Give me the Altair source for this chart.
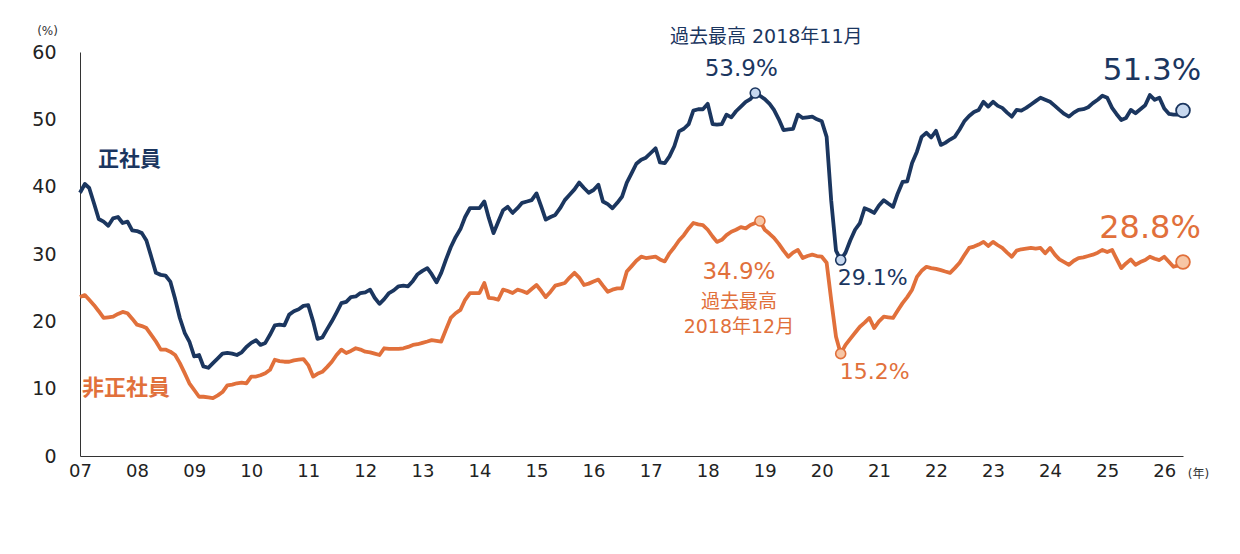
import altair as alt
import pandas as pd

NAVY = "#1b365f"
ORANGE = "#e1703b"
NAVY_LIGHT = "#c7d8ef"
ORANGE_LIGHT = "#f7c6a5"
FONT = "DejaVu Sans, Noto Sans CJK JP"

months = pd.date_range("2007-01-01", "2026-05-01", freq="MS")

# 正社員 (monthly, 2007-01 .. 2026-05)
seishain = [
    39.1, 40.4, 39.8, 37.5, 35.2, 34.8, 34.2, 35.3, 35.5, 34.6, 34.8, 33.5,  # 07
    33.4, 33.1, 32.0, 29.6, 27.2, 26.9, 26.8, 25.9, 23.3, 20.5, 18.3, 17.0,  # 08
    14.8, 15.0, 13.3, 13.1, 13.8, 14.5, 15.2, 15.3, 15.2, 15.0, 15.4, 16.2,  # 09
    16.8, 17.2, 16.5, 16.8, 18.0, 19.4, 19.5, 19.4, 21.0, 21.5, 21.8, 22.3,  # 10
    22.4, 20.0, 17.4, 17.6, 18.8, 20.0, 21.3, 22.7, 22.9, 23.6, 23.7, 24.2,  # 11
    24.3, 24.7, 23.5, 22.6, 23.3, 24.2, 24.6, 25.2, 25.3, 25.2, 26.0, 27.0,  # 12
    27.5, 27.9, 27.0, 25.8, 27.2, 29.2, 31.0, 32.5, 33.7, 35.5, 36.8, 36.8,  # 13
    36.8, 37.8, 35.4, 33.1, 34.8, 36.5, 37.0, 36.1, 36.8, 37.6, 37.8, 38.0,  # 14
    39.0, 37.0, 35.1, 35.5, 35.8, 36.8, 38.0, 38.8, 39.6, 40.6, 39.8, 39.1,  # 15
    39.5, 40.3, 37.8, 37.4, 36.8, 37.6, 38.5, 40.6, 42.0, 43.4, 44.0, 44.3,  # 16
    45.0, 45.7, 43.6, 43.5, 44.5, 46.0, 48.2, 48.6, 49.3, 51.3, 51.5, 51.5,  # 17
    52.3, 49.3, 49.2, 49.3, 50.7, 50.3, 51.2, 51.9, 52.6, 53.0, 53.9, 53.5,  # 18
    53.0, 52.3, 51.4, 50.0, 48.4, 48.5, 48.6, 50.7, 50.2, 50.3, 50.4, 50.0,  # 19
    49.7, 47.4, 38.0, 30.5, 29.1, 30.2, 32.0, 33.6, 34.6, 36.8, 36.5, 36.1,  # 20
    37.2, 38.0, 37.5, 37.0, 39.0, 40.7, 40.8, 43.5, 45.2, 47.4, 48.0, 47.3,  # 21
    48.3, 46.2, 46.5, 47.0, 47.4, 48.5, 49.7, 50.5, 51.1, 51.4, 52.6, 51.9,  # 22
    52.6, 52.0, 51.7, 51.0, 50.4, 51.4, 51.3, 51.7, 52.2, 52.7, 53.2, 52.9,  # 23
    52.6, 52.0, 51.4, 50.8, 50.4, 51.0, 51.4, 51.5, 51.8, 52.4, 52.9, 53.5,  # 24
    53.2, 51.7, 50.8, 49.9, 50.2, 51.4, 50.9, 51.5, 52.1, 53.6, 52.9, 53.2,  # 25
    51.6, 50.8, 50.7, 50.7, 51.3,                                            # 26
]

# 非正社員
hiseishain = [
    23.6, 23.9, 23.2, 22.4, 21.5, 20.5, 20.6, 20.7, 21.1, 21.4, 21.2, 20.4,  # 07
    19.5, 19.3, 19.0, 18.0, 17.0, 15.8, 15.8, 15.5, 15.0, 13.8, 12.3, 10.8,  # 08
    9.8, 8.8, 8.8, 8.7, 8.6, 9.0, 9.5, 10.5, 10.6, 10.8, 10.9, 10.8,         # 09
    11.8, 11.8, 12.0, 12.3, 12.8, 14.3, 14.1, 14.0, 14.0, 14.2, 14.3, 14.4,  # 10
    13.5, 11.8, 12.2, 12.5, 13.2, 14.0, 15.0, 15.8, 15.3, 15.6, 16.0, 15.8,  # 11
    15.5, 15.4, 15.2, 15.0, 16.0, 15.9, 15.9, 15.9, 16.0, 16.2, 16.5, 16.6,  # 12
    16.8, 17.0, 17.2, 17.1, 17.0, 18.8, 20.5, 21.2, 21.7, 23.2, 24.2, 24.2,  # 13
    24.2, 25.7, 23.5, 23.4, 23.2, 24.7, 24.5, 24.2, 24.7, 24.5, 24.2, 24.8,  # 14
    25.4, 24.5, 23.6, 24.4, 25.3, 25.5, 25.7, 26.5, 27.2, 26.5, 25.4, 25.6,  # 15
    25.9, 26.2, 25.3, 24.4, 24.7, 24.9, 24.9, 27.4, 28.2, 29.0, 29.6, 29.4,  # 16
    29.5, 29.6, 29.2, 28.9, 30.1, 31.0, 32.0, 32.8, 33.8, 34.6, 34.4, 34.3,  # 17
    33.6, 32.6, 31.8, 32.1, 32.8, 33.3, 33.6, 34.0, 33.8, 34.3, 34.6, 34.9,  # 18
    33.6, 33.0, 32.4, 31.5, 30.5, 29.6, 30.2, 30.6, 29.4, 29.7, 29.9, 29.7,  # 19
    29.6, 28.7, 23.2, 17.7, 15.2, 16.5, 17.4, 18.3, 19.2, 19.8, 20.5, 19.0,  # 20
    20.0, 20.7, 20.6, 20.5, 21.6, 22.7, 23.6, 24.7, 26.6, 27.5, 28.1, 27.9,  # 21
    27.8, 27.6, 27.4, 27.2, 27.9, 28.7, 29.8, 30.9, 31.1, 31.4, 31.8, 31.2,  # 22
    31.8, 31.3, 30.9, 30.2, 29.6, 30.5, 30.7, 30.8, 30.9, 30.8, 30.9, 30.1,  # 23
    30.9, 29.9, 29.2, 28.8, 28.4, 29.0, 29.4, 29.5, 29.7, 29.9, 30.2, 30.6,  # 24
    30.3, 30.6, 29.3, 27.9, 28.6, 29.2, 28.4, 28.8, 29.1, 29.6, 29.3, 29.1,  # 25
    29.6, 28.8, 28.1, 28.3, 28.8,                                            # 26
]

series_names = ["正社員", "非正社員"]
year_ticks = list(range(2007, 2027))

n = len(months)
df = pd.DataFrame({
    "month": list(months) * 2,
    "rate": seishain + hiseishain,
    "type": [series_names[0]] * n + [series_names[1]] * n,
})

# highlighted points
hl_month = ["2018-11-01", "2020-05-01", "2018-12-01", "2020-05-01"]
hl_rate = [53.9, 29.1, 34.9, 15.2]
hl_type = ["正社員", "正社員", "非正社員", "非正社員"]
last_month = ["2026-05-01", "2026-05-01"]
last_rate = [51.3, 28.8]
last_type = ["正社員", "非正社員"]

hl_df = pd.DataFrame({"month": pd.to_datetime(hl_month), "rate": hl_rate, "type": hl_type})
last_df = pd.DataFrame({"month": pd.to_datetime(last_month), "rate": last_rate, "type": last_type})

x_enc = alt.X(
    "month:T",
    scale=alt.Scale(domain=[alt.DateTime(year=2007, month=1, date=1),
                            alt.DateTime(year=2026, month=5, date=1)]),
    axis=alt.Axis(
        values=[alt.DateTime(year=y, month=1, date=1) for y in year_ticks],
        format="%y", title="(年)", titleAngle=0, titleX=1118, titleY=17,
        titleFontSize=12, titleFontWeight="normal", titleColor="#333",
        titleBaseline="middle", titleAlign="center",
        labelFontSize=18, labelPadding=6, labelColor="#222",
        ticks=False, grid=False, domainColor="#333", labelFlush=False,
    ),
)
y_enc = alt.Y(
    "rate:Q",
    scale=alt.Scale(domain=[0, 60]),
    axis=alt.Axis(
        values=[0, 10, 20, 30, 40, 50, 60], title="(%)", titleAngle=0,
        titleX=-33, titleY=-22, titleFontSize=12, titleFontWeight="normal",
        titleColor="#333", titleBaseline="middle", titleAlign="center",
        labelFontSize=19, labelPadding=24, labelColor="#222",
        ticks=False, grid=False, domainColor="#333",
    ),
)

lines = alt.Chart(df).mark_line(strokeWidth=3.8, strokeJoin="round").encode(
    x=x_enc, y=y_enc,
    color=alt.Color("type:N", scale=alt.Scale(domain=series_names, range=[NAVY, ORANGE]), legend=None),
    detail="type:N",
)

fill_scale = alt.Scale(domain=series_names, range=[NAVY_LIGHT, ORANGE_LIGHT])
stroke_scale = alt.Scale(domain=series_names, range=[NAVY, ORANGE])

small_pts = alt.Chart(hl_df).mark_point(shape="circle", filled=False, size=100, strokeWidth=1.6, opacity=1).encode(
    x=x_enc, y=y_enc,
    fill=alt.Fill("type:N", scale=fill_scale, legend=None),
    stroke=alt.Stroke("type:N", scale=stroke_scale, legend=None),
)
big_pts = alt.Chart(last_df).mark_point(shape="circle", filled=False, size=190, strokeWidth=1.8, opacity=1).encode(
    x=x_enc, y=y_enc,
    fill=alt.Fill("type:N", scale=fill_scale, legend=None),
    stroke=alt.Stroke("type:N", scale=stroke_scale, legend=None),
)


def note(text, month, value, color, size, dx, dy, align="center", weight="normal"):
    d = pd.DataFrame({"month": [pd.Timestamp(month)], "rate": [value], "t": [text]})
    return alt.Chart(d).mark_text(
        color=color, fontSize=size, dx=dx, dy=dy, align=align,
        baseline="middle", font=FONT, fontWeight=weight,
    ).encode(x=x_enc, y=y_enc, text="t:N")


notes = [
    note("過去最高 2018年11月", "2018-11-01", 53.9, NAVY, 19, 11, -56),
    note("53.9%", "2018-11-01", 53.9, NAVY, 23, -14, -24),
    note("29.1%", "2020-05-01", 29.1, NAVY, 22, -3, 18, align="left"),
    note("34.9%", "2018-12-01", 34.9, ORANGE, 23, -21, 51),
    note("過去最高", "2018-12-01", 34.9, ORANGE, 19, -21, 81),
    note("2018年12月", "2018-12-01", 34.9, ORANGE, 19, -21, 106),
    note("15.2%", "2020-05-01", 15.2, ORANGE, 22, -1, 18, align="left"),
    note("51.3%", "2026-05-01", 51.3, NAVY, 31, -31, -40),
    note("28.8%", "2026-05-01", 28.8, ORANGE, 32, -33, -34),
    note("正社員", "2007-01-01", 39.1, NAVY, 21, 18, -33, align="left", weight="bold"),
    note("非正社員", "2007-01-01", 23.6, ORANGE, 22, 2, 91, align="left", weight="bold"),
]

chart = alt.layer(lines, small_pts, big_pts, *notes).properties(
    width=1103, height=404,
    autosize=alt.AutoSizeParams(type="none"),
    padding={"left": 72, "top": 44, "right": 40, "bottom": 40},
).configure_view(stroke=None).configure_axis(
    labelFont=FONT, titleFont=FONT,
)

chart.save("out.html", embed_options={"renderer": "svg", "actions": False})
